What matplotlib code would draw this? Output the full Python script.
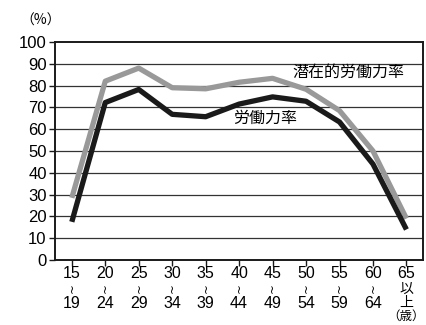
import matplotlib
matplotlib.use("Agg")
import matplotlib.pyplot as plt
from matplotlib.transforms import blended_transform_factory

plt.rcParams['font.family'] = ['Liberation Sans', 'Noto Sans CJK JP', 'DejaVu Sans']

age_start = ["15", "20", "25", "30", "35", "40", "45", "50", "55", "60", "65"]
age_end = ["19", "24", "29", "34", "39", "44", "49", "54", "59", "64", None]
last_suffix = ["以", "上", "（歳）"]
potential_rate = [28.5, 82.0, 88.0, 79.0, 78.5, 81.5, 83.3, 78.3, 68.5, 50.0, 19.0]
labor_rate = [17.5, 72.2, 78.2, 66.8, 65.7, 71.5, 74.8, 72.8, 63.3, 44.0, 14.0]
y_ticks = [0, 10, 20, 30, 40, 50, 60, 70, 80, 90, 100]

W, H = 427, 325
fig = plt.figure(figsize=(W / 100, H / 100), dpi=100)
ax = fig.add_axes([0.129, 0.2, 0.862, 0.671])

x = list(range(len(age_start)))
for yv in y_ticks[1:-1]:
    ax.axhline(yv, color='#333333', lw=0.9, zorder=1)

ax.plot(x, potential_rate, color='#999999', lw=3.8, zorder=3, solid_capstyle='butt')
ax.plot(x, labor_rate, color='#1a1a1a', lw=3.8, zorder=4, solid_capstyle='butt')

ax.set_xlim(-0.5, len(age_start) - 0.5)
ax.set_ylim(0, 100)
ax.set_yticks(y_ticks)
ax.set_yticklabels([str(v) for v in y_ticks], fontsize=12)
ax.set_xticks(x)
ax.set_xticklabels([])

for s in ax.spines.values():
    s.set_linewidth(1.4)
    s.set_color('#1a1a1a')
ax.tick_params(axis='both', direction='out', length=4, width=1.0, color='#1a1a1a')
ax.tick_params(axis='y', pad=2)

# multi-line age-group labels below the x axis (y in figure pixels from top)
tr = blended_transform_factory(ax.transData, fig.transFigure)
def fy(py):
    return 1 - py / H

for xi, (a, b) in enumerate(zip(age_start, age_end)):
    ax.text(xi, fy(274), a, transform=tr, ha='center', va='center', fontsize=11.5)
    if b is not None:
        ax.text(xi, fy(288.5), "~", transform=tr, ha='center', va='center',
                fontsize=8.5, rotation=90, family=['DejaVu Sans'])
        ax.text(xi, fy(303), b, transform=tr, ha='center', va='center', fontsize=11.5)
    else:
        for py, s in zip([289, 303], last_suffix[:2]):
            ax.text(xi, fy(py), s, transform=tr, ha='center', va='center',
                    fontsize=10, family=['Noto Sans CJK JP'])
        ax.text(xi, fy(316.5), last_suffix[2], transform=tr, ha='center', va='center',
                fontsize=9, family=['Noto Sans CJK JP'])

ax.text(8.26, 85.9, "潜在的労働力率", fontsize=11.5, ha='center', va='center',
        family=['Noto Sans CJK JP'], zorder=5)
ax.text(5.77, 65.0, "労働力率", fontsize=11.5, ha='center', va='center',
        family=['Noto Sans CJK JP'], zorder=5)

fig.text(0.094, 0.935, "（%）", fontsize=10, ha='center', va='center',
         family=['Noto Sans CJK JP', 'DejaVu Sans'])

fig.savefig("out.png", dpi=100)
